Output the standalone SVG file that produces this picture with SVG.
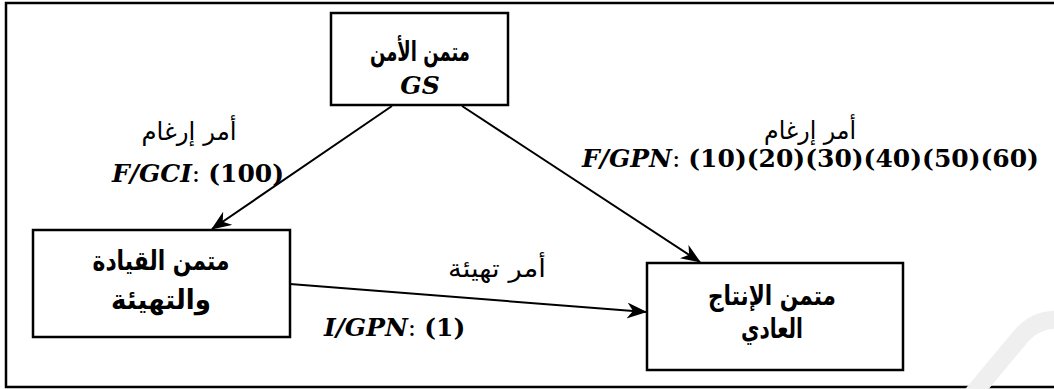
<svg xmlns="http://www.w3.org/2000/svg" width="1054" height="389" viewBox="0 0 1054 389">
  <defs>
    <marker id="arrow" viewBox="0 0 20 16" refX="19" refY="8" markerWidth="20" markerHeight="16" markerUnits="userSpaceOnUse" orient="auto">
      <path d="M0,0 L20,8 L0,16 L6,8 Z" fill="#000"/>
    </marker>
    <style>
      .frame { fill: none; stroke: #000; stroke-width: 2.5; }
      .box { fill: #fff; stroke: #000; stroke-width: 2.5; }
      .link { fill: none; stroke: #000; stroke-width: 2; marker-end: url(#arrow); }
      .ar-bold { font-family: "DejaVu Sans", sans-serif; font-weight: bold; font-size: 27px; text-anchor: middle; fill: #000; }
      .ar-label { font-family: "DejaVu Sans", sans-serif; font-size: 25px; text-anchor: middle; fill: #000; }
      .math { font-family: "DejaVu Serif", serif; font-size: 25px; fill: #000; }
      .mi { font-style: italic; font-weight: bold; }
      .mb { font-weight: bold; }
      .mr { font-weight: normal; }
      .mark { fill: none; stroke: #efefef; stroke-width: 18; }
    </style>
  </defs>

  <!-- page frame (open on the right) -->
  <path class="frame" d="M1054,3 H6 V387 H1054"/>

  <!-- faint background mark, lower right -->
  <path class="mark" d="M972,395 L1022,335 Q1038,318 1060,320"/>

  <!-- connectors -->
  <g id="connectors">
    <line class="link" x1="392" y1="106" x2="212" y2="229"/>
    <line class="link" x1="462" y1="106" x2="700" y2="262"/>
    <line class="link" x1="290" y1="284" x2="646" y2="312"/>
  </g>

  <!-- security core -->
  <g id="node-gs">
    <rect class="box" x="331" y="13" width="177" height="92"/>
    <text class="ar-bold" x="420" y="61" direction="rtl" font-size="34" textLength="100" lengthAdjust="spacingAndGlyphs">متمن الأمن</text>
    <text class="math mi" x="420" y="94" text-anchor="middle" font-size="29">GS</text>
  </g>

  <!-- control and initialisation core -->
  <g id="node-control">
    <rect class="box" x="33" y="230" width="257" height="107"/>
    <text class="ar-bold" x="161" y="270" direction="rtl" textLength="137" lengthAdjust="spacingAndGlyphs">متمن القيادة</text>
    <text class="ar-bold" x="161" y="309" direction="rtl" textLength="100" lengthAdjust="spacingAndGlyphs">والتهيئة</text>
  </g>

  <!-- normal production core -->
  <g id="node-production">
    <rect class="box" x="647" y="263" width="256" height="107"/>
    <text class="ar-bold" x="772" y="305" direction="rtl" textLength="128" lengthAdjust="spacingAndGlyphs">متمن الإنتاج</text>
    <text class="ar-bold" x="772" y="338" direction="rtl" textLength="62" lengthAdjust="spacingAndGlyphs">العادي</text>
  </g>

  <!-- connector labels -->
  <g id="labels">
    <text class="ar-label" x="189" y="140" direction="rtl" textLength="95" lengthAdjust="spacingAndGlyphs">أمر إرغام</text>
    <text class="math" x="112" y="182"><tspan class="mi">F/GCI</tspan><tspan class="mr">: </tspan><tspan class="mb">(100)</tspan></text>

    <text class="ar-label" x="810" y="139" direction="rtl" textLength="92" lengthAdjust="spacingAndGlyphs">أمر إرغام</text>
    <text class="math" x="582" y="167"><tspan class="mi">F/GPN</tspan><tspan class="mr">: </tspan><tspan class="mb">(10)(20)(30)(40)(50)(60)</tspan></text>

    <text class="ar-label" x="497" y="277" direction="rtl" textLength="98" lengthAdjust="spacingAndGlyphs">أمر تهيئة</text>
    <text class="math" x="324" y="336"><tspan class="mi">I/GPN</tspan><tspan class="mr">: </tspan><tspan class="mb">(1)</tspan></text>
  </g>
</svg>
